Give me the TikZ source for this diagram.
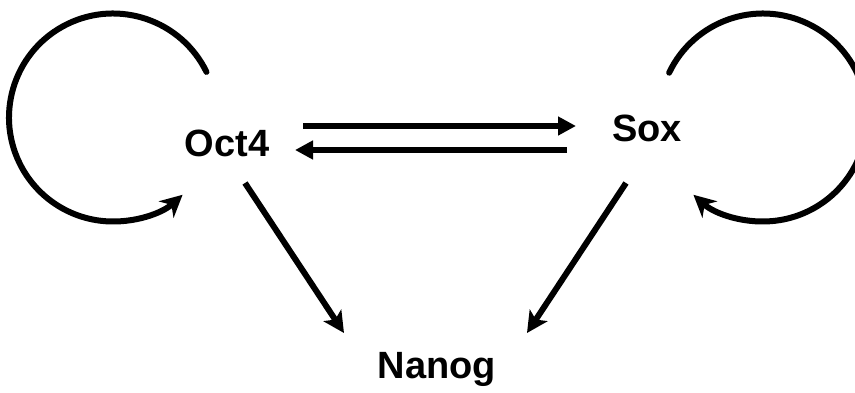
\documentclass[tikz,border=0pt]{standalone}
\usepackage{fontspec}
\setmainfont{Liberation Sans}
\usetikzlibrary{arrows.meta}
\begin{document}
\begin{tikzpicture}[x=1pt,y=1pt,
  lbl/.style={font=\fontsize{38pt}{45pt}\selectfont\bfseries, inner sep=0pt, anchor=base},
  conn/.style={line width=6pt, -{Stealth[length=21pt,width=21pt,inset=5pt]}},
  hconn/.style={line width=6pt, -{Triangle[length=18pt,width=18pt]}},
  selfloop/.style={line width=6pt, line cap=round, -{Stealth[length=22pt,width=22pt,inset=7pt]}}]
\useasboundingbox (0,0) rectangle (855,392);
\clip (0,0) rectangle (855,392);
\node[lbl] (oct) at (227,236) {Oct4};
\node[lbl] (sox) at (647,251) {Sox};
\node[lbl] (nanog) at (437,14) {Nanog};
% named connector ends
\coordinate (a1) at (303,266);
\coordinate (a2) at (576,266);
\coordinate (b1) at (567,242);
\coordinate (b2) at (295,242);
\coordinate (c1) at (245,209);
\coordinate (c2) at (344,59);
\coordinate (d1) at (626,209);
\coordinate (d2) at (527,59);
\coordinate (lc) at (113,274.5);
\coordinate (rc) at (763,274.5);
\draw[hconn] (a1) -- (a2);
\draw[hconn] (b1) -- (b2);
\draw[conn] (c1) -- (c2);
\draw[conn] (d1) -- (d2);
\draw[selfloop] ([shift={(26:104)}]lc) arc[start angle=26, end angle=312, radius=104];
\draw[selfloop] ([shift={(154.5:104)}]rc) arc[start angle=154.5, end angle=-132, radius=104];
\end{tikzpicture}
\end{document}
